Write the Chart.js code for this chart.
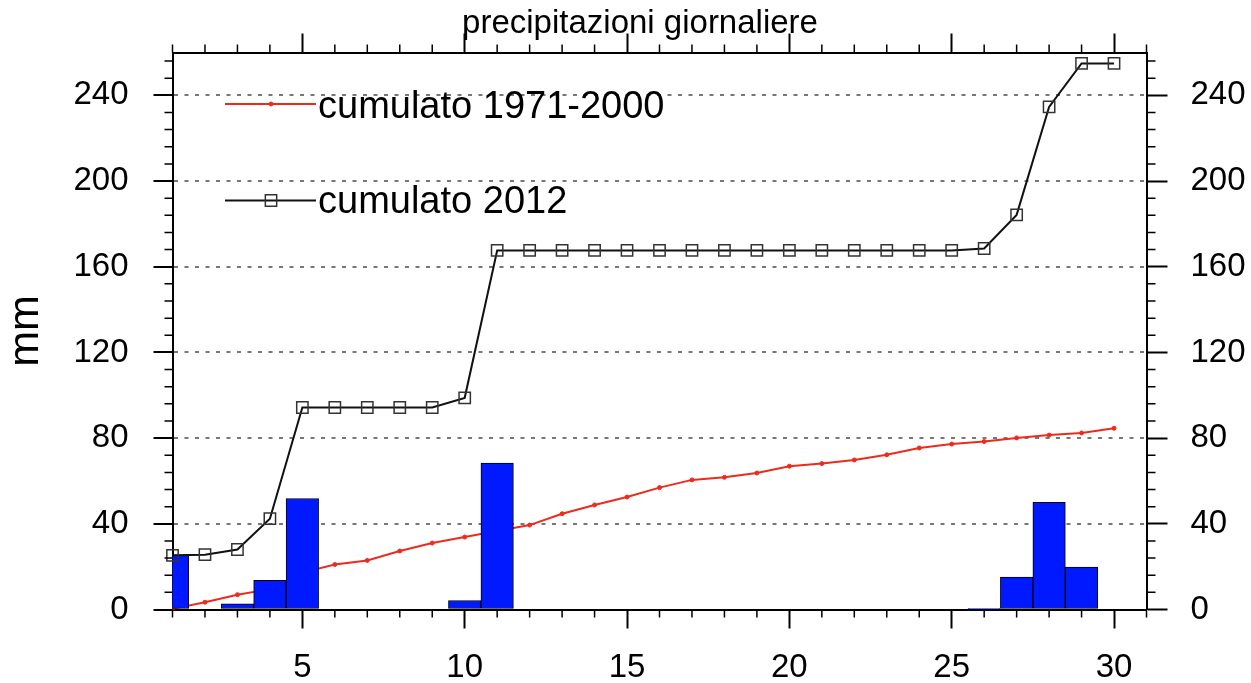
<!DOCTYPE html>
<html><head><meta charset="utf-8">
<script src="https://cdn.jsdelivr.net/npm/chart.js@4"></script>
<style>html,body{margin:0;padding:0;background:#fff}#wrap{width:1251px;height:683px;position:relative}</style>
</head><body><div id="wrap"><canvas id="c"></canvas></div>
<script>
const days = [1,2,3,4,5,6,7,8,9,10,11,12,13,14,15,16,17,18,19,20,21,22,23,24,25,26,27,28,29,30];
const dailyRain2012 = [25.3,0,2.7,13.6,51.8,0,0,0,0,4.2,68.4,0,0,0,0,0,0,0,0,0,0,0,0,0,0,0.6,15.1,50.0,19.8,0];
const cumulative2012 = [25.3,25.6,28.0,42.4,94.3,94.3,94.3,94.3,94.3,98.8,167.6,167.6,167.6,167.6,167.6,167.6,167.6,167.6,167.6,167.6,167.6,167.6,167.6,167.6,167.6,168.5,184.2,234.6,254.9,254.9];
const cumulative19712000 = [0.3,3.4,6.9,9.5,17.2,21.0,22.9,27.3,31.0,33.8,36.6,39.4,44.7,48.8,52.5,56.9,60.5,61.7,63.7,66.9,68.1,69.8,72.2,75.4,77.2,78.4,80.1,81.4,82.4,84.6];
const xTickValues = [5,10,15,20,25,30];
const yTickValues = [0,40,80,120,160,200,240];
const titleText = 'precipitazioni giornaliere';
const yTitle = 'mm';
const legendLabels = ['cumulato 1971-2000','cumulato 2012'];

const FONT = '"Liberation Sans", Arial, sans-serif';
const pts = arr => days.map((d,i)=>({x:d,y:arr[i]}));
const setTicks = vals => (s => { s.ticks = vals.map(v=>({value:v})); });

const decor = {
  id:'decor',
  afterDraw(chart){
    const ctx = chart.ctx;
    const x = chart.scales.x, y = chart.scales.y;
    const a = chart.chartArea;
    ctx.save();
    // minor ticks
    ctx.strokeStyle = '#000'; ctx.lineWidth = 1.5;
    ctx.beginPath();
    for (let d = 1; d <= 31; d++) {
      if (d % 5 === 0) continue;
      const px = x.getPixelForValue(d);
      ctx.moveTo(px, a.bottom); ctx.lineTo(px, a.bottom + 8);
      ctx.moveTo(px, a.top); ctx.lineTo(px, a.top - 8);
    }
    for (let v = 8; v <= 256; v += 8) {
      if (v % 40 === 0) continue;
      const py = y.getPixelForValue(v);
      ctx.moveTo(a.left, py); ctx.lineTo(a.left - 8, py);
      ctx.moveTo(a.right, py); ctx.lineTo(a.right + 9, py);
    }
    ctx.stroke();
    // title
    ctx.fillStyle = '#000';
    ctx.font = '33px ' + FONT;
    ctx.textAlign = 'center'; ctx.textBaseline = 'alphabetic';
    ctx.fillText(titleText, 640, 33);
    // legend
    const ds = chart.data.datasets;
    const items = [
      {d: ds[0], y: 104, base: 118},
      {d: ds[1], y: 200.5, base: 213}
    ];
    ctx.font = '38px ' + FONT;
    ctx.textAlign = 'left';
    items.forEach(it => {
      ctx.strokeStyle = it.d.borderColor; ctx.lineWidth = it.d.borderWidth;
      ctx.beginPath(); ctx.moveTo(225, it.y); ctx.lineTo(316, it.y); ctx.stroke();
      ctx.fillStyle = it.d.pointBackgroundColor;
      ctx.strokeStyle = it.d.pointBorderColor;
      ctx.lineWidth = it.d.pointBorderWidth;
      Chart.helpers.drawPoint(ctx, {pointStyle: it.d.pointStyle, radius: it.d.pointRadius, borderWidth: it.d.pointBorderWidth, rotation:0}, 271, it.y);
      ctx.fillStyle = '#000';
      ctx.fillText(it.d.label, 318, it.base);
    });
    ctx.restore();
  }
};

new Chart(document.getElementById('c'), {
  type: 'line',
  data: {
    datasets: [
      {
        label: legendLabels[0], type: 'line', data: pts(cumulative19712000),
        borderColor: '#ee2a1c', backgroundColor: '#ee2a1c', borderWidth: 2,
        pointStyle: 'circle', pointRadius: 2, pointBorderWidth: 1,
        pointBackgroundColor: '#ee2a1c', pointBorderColor: '#ee2a1c',
        order: 2, tension: 0
      },
      {
        label: legendLabels[1], type: 'line', data: pts(cumulative2012),
        borderColor: '#111', backgroundColor: 'rgba(0,0,0,0)', borderWidth: 2,
        pointStyle: 'rect', pointRadius: 8, pointBorderWidth: 1.5,
        pointBackgroundColor: 'rgba(0,0,0,0)', pointBorderColor: '#333',
        order: 0, tension: 0, clip: false
      },
      {
        label: 'giornaliero 2012', type: 'bar', data: pts(dailyRain2012),
        backgroundColor: '#0019ff', borderColor: '#000', borderWidth: 1,
        borderSkipped: false, barPercentage: 1, categoryPercentage: 1,
        order: 1
      }
    ]
  },
  options: {
    responsive: true, maintainAspectRatio: false, animation: false,
    devicePixelRatio: 1,
    layout: {padding: 0},
    plugins: {legend: {display: false}, title: {display: false}, tooltip: {enabled: false}},
    scales: {
      x: {
        type: 'linear', position: 'bottom', min: 1, max: 31, offset: false,
        afterBuildTicks: setTicks(xTickValues),
        afterFit: s => { s.height = 73.5; },
        grid: {drawOnChartArea: false, offset: false, tickLength: 19, tickWidth: 2, tickColor: '#000'},
        border: {display: true, color: '#000', width: 2},
        ticks: {color: '#000', font: {family: FONT, size: 33}, padding: 20, maxRotation: 0}
      },
      x2: {
        type: 'linear', position: 'top', min: 1, max: 31, offset: false,
        afterBuildTicks: setTicks(xTickValues),
        afterFit: s => { s.height = 52.5; },
        grid: {drawOnChartArea: false, tickLength: 19, tickWidth: 2, tickColor: '#000'},
        border: {display: true, color: '#000', width: 2},
        ticks: {display: false}
      },
      y: {
        type: 'linear', position: 'left', min: 0, max: 260,
        afterBuildTicks: setTicks(yTickValues),
        afterFit: s => { s.width = 172.5; },
        grid: {
          drawOnChartArea: true, lineWidth: 2,
          color: c => (c.tick && c.tick.value === 0) ? 'rgba(0,0,0,0)' : '#777',
          tickLength: 19, tickWidth: 2, tickColor: '#000'
        },
        border: {display: true, color: '#000', width: 2, dash: [4, 6.5]},
        ticks: {color: '#000', font: {family: FONT, size: 33}, padding: 25},
        title: {display: true, text: yTitle, color: '#000', font: {family: FONT, size: 43}, padding: 0}
      },
      y2: {
        type: 'linear', position: 'right', min: 0, max: 260,
        afterBuildTicks: setTicks(yTickValues),
        afterFit: s => { s.width = 104.5; },
        grid: {drawOnChartArea: false, tickLength: 21, tickWidth: 2, tickColor: '#000'},
        border: {display: true, color: '#000', width: 2},
        ticks: {color: '#000', font: {family: FONT, size: 33}, padding: 23}
      }
    }
  },
  plugins: [decor]
});
</script>
</body></html>
